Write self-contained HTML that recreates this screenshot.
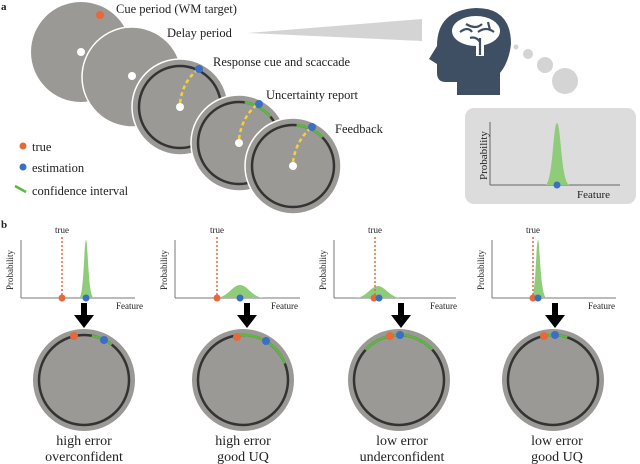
<!DOCTYPE html>
<html><head><meta charset="utf-8"><style>
body{margin:0;background:#fff}
svg{display:block}
text{font-family:"Liberation Serif",serif;fill:#222}
</style></head><body>
<svg width="640" height="464" viewBox="0 0 640 464" xmlns="http://www.w3.org/2000/svg">
<text x="1" y="10" font-size="11" font-weight="bold">a</text>
<text x="1" y="228" font-size="11" font-weight="bold">b</text>
<!-- triangle -->
<polygon points="248,33 422,19 422,41" fill="#d4d4d4"/>
<!-- stacked circles -->
<circle cx="81" cy="52" r="50" fill="#9a9995"/>
<circle cx="100" cy="15" r="4" fill="#e8683a"/>
<circle cx="81" cy="52" r="4" fill="#fff"/>
<circle cx="132" cy="77" r="50" fill="#9a9995" stroke="#fff" stroke-width="1.5"/>
<circle cx="132" cy="76" r="4" fill="#fff"/>
<g>
<circle cx="180" cy="107" r="48" fill="#9a9995" stroke="#fff" stroke-width="1.5"/>
<circle cx="180" cy="107" r="41" fill="none" stroke="#333" stroke-width="2.5"/>
<path d="M180,103 Q183,80 199,69" fill="none" stroke="#f5d13a" stroke-width="2.5" stroke-dasharray="4,3"/>
<circle cx="180" cy="107" r="4" fill="#fff"/>
<circle cx="199" cy="69" r="4" fill="#3a6fc4"/>
</g>
<g>
<circle cx="239" cy="143" r="48" fill="#9a9995" stroke="#fff" stroke-width="1.5"/>
<circle cx="239" cy="143" r="41" fill="none" stroke="#333" stroke-width="2.5"/>
<circle cx="239" cy="143" r="41" fill="none" stroke="#5cb83f" stroke-width="2.5" stroke-dasharray="30 300" transform="rotate(-82 239 143)"/>
<path d="M239,139 Q242,116 258,104" fill="none" stroke="#f5d13a" stroke-width="2.5" stroke-dasharray="4,3"/>
<circle cx="239" cy="143" r="4" fill="#fff"/>
<circle cx="259" cy="104" r="4" fill="#3a6fc4"/>
</g>
<g>
<circle cx="293" cy="166" r="48" fill="#9a9995" stroke="#fff" stroke-width="1.5"/>
<circle cx="293" cy="166" r="41" fill="none" stroke="#333" stroke-width="2.5"/>
<circle cx="293" cy="166" r="41" fill="none" stroke="#5cb83f" stroke-width="2.5" stroke-dasharray="29 300" transform="rotate(-85 293 166)"/>
<path d="M293,162 Q296,140 312,127" fill="none" stroke="#f5d13a" stroke-width="2.5" stroke-dasharray="4,3"/>
<circle cx="293" cy="166" r="4" fill="#fff"/>
<circle cx="312" cy="127" r="4" fill="#3a6fc4"/>
</g>
<text x="116" y="13" font-size="12.5">Cue period (WM target)</text>
<text x="167" y="37" font-size="12.5">Delay period</text>
<text x="213" y="66" font-size="12.5">Response cue and scaccade</text>
<text x="266" y="99" font-size="12.5">Uncertainty report</text>
<text x="335" y="133" font-size="12.5">Feedback</text>
<!-- legend -->
<circle cx="23" cy="146" r="3.5" fill="#e8683a"/>
<text x="32" y="151" font-size="12.5">true</text>
<circle cx="23" cy="167" r="3.5" fill="#3a6fc4"/>
<text x="32" y="172" font-size="12.5">estimation</text>
<line x1="15" y1="186" x2="26" y2="192" stroke="#5cb83f" stroke-width="2.5"/>
<text x="32" y="195" font-size="12.5">confidence interval</text>
<!-- head -->
<path d="M457,95 L457,82 L446,82 Q437,82 437,73 L437,64 L429,59 L437,46 Q437,10 476,8 Q511,8 511,44 Q509,62 500,73 L500,95 Z" fill="#3e4f63"/>
<ellipse cx="476" cy="31" rx="24" ry="15" fill="#fff"/>
<rect x="476" y="38" width="8" height="18" fill="#fff"/>
<path d="M460,32 Q468,26 472,32 M466,24 Q476,30 482,24 M478,32 Q486,26 494,32 M480,38 L480,55 M470,38 Q476,36 480,42 M488,22 L490,30" stroke="#3e4f63" stroke-width="2.2" fill="none"/>
<circle cx="516" cy="47" r="2.5" fill="#d4d4d4"/>
<circle cx="528" cy="54" r="5" fill="#d4d4d4"/>
<circle cx="545" cy="65" r="8" fill="#d4d4d4"/>
<circle cx="565" cy="81" r="13" fill="#d4d4d4"/>
<!-- box -->
<rect x="465" y="108" width="171" height="96" rx="9" fill="#dcdcdc"/>
<line x1="490" y1="122" x2="490" y2="185" stroke="#666" stroke-width="1"/>
<line x1="490" y1="185" x2="620" y2="185" stroke="#666" stroke-width="1"/>
<path d="M545,185 C553,185 553,123 557,123 C561,123 561,185 570,185 Z" fill="#8fcc7a"/>
<circle cx="557" cy="185" r="3.5" fill="#3a6fc4"/>
<text x="577" y="198" font-size="11">Feature</text>
<text transform="translate(487,180) rotate(-90)" font-size="11">Probability</text>
<!-- panel b plots -->
<g font-size="9">
<!-- p1 -->
<line x1="21" y1="240" x2="21" y2="298" stroke="#777"/><line x1="21" y1="298" x2="135" y2="298" stroke="#777"/>
<path d="M79,298 C84,298 84,240 86,240 C88,240 88,298 94,298 Z" fill="#8fcc7a"/>
<line x1="62" y1="237" x2="62" y2="298" stroke="#e8683a" stroke-width="1.5" stroke-dasharray="2,2"/>
<text x="55" y="233">true</text>
<circle cx="62" cy="298" r="3.5" fill="#e8683a"/><circle cx="86" cy="298" r="3.5" fill="#3a6fc4"/>
<text x="116" y="309">Feature</text>
<text transform="translate(13,290) rotate(-90)">Probability</text>
<!-- p2 -->
<line x1="175" y1="240" x2="175" y2="298" stroke="#777"/><line x1="175" y1="298" x2="300" y2="298" stroke="#777"/>
<path d="M215,298 C228,298 232,285 240,285 C248,285 252,298 265,298 Z" fill="#8fcc7a"/>
<line x1="217" y1="237" x2="217" y2="298" stroke="#e8683a" stroke-width="1.5" stroke-dasharray="2,2"/>
<text x="210" y="233">true</text>
<circle cx="217" cy="298" r="3.5" fill="#e8683a"/><circle cx="240" cy="298" r="3.5" fill="#3a6fc4"/>
<text x="271" y="309">Feature</text>
<text transform="translate(167,290) rotate(-90)">Probability</text>
<!-- p3 -->
<line x1="334" y1="240" x2="334" y2="298" stroke="#777"/><line x1="334" y1="298" x2="456" y2="298" stroke="#777"/>
<path d="M355,298 C366,298 371,286 378,286 C385,286 390,298 402,298 Z" fill="#8fcc7a"/>
<line x1="375" y1="237" x2="375" y2="298" stroke="#e8683a" stroke-width="1.5" stroke-dasharray="2,2"/>
<text x="368" y="233">true</text>
<circle cx="374" cy="298" r="3.5" fill="#e8683a"/><circle cx="379" cy="298" r="3.5" fill="#3a6fc4"/>
<text x="430" y="309">Feature</text>
<text transform="translate(326,290) rotate(-90)">Probability</text>
<!-- p4 -->
<line x1="492" y1="240" x2="492" y2="298" stroke="#777"/><line x1="492" y1="298" x2="616" y2="298" stroke="#777"/>
<path d="M531,298 C536,298 536,240 538,240 C540,240 540,298 547,298 Z" fill="#8fcc7a"/>
<line x1="533" y1="237" x2="533" y2="298" stroke="#e8683a" stroke-width="1.5" stroke-dasharray="2,2"/>
<text x="526" y="233">true</text>
<circle cx="533" cy="298" r="3.5" fill="#e8683a"/><circle cx="538" cy="298" r="3.5" fill="#3a6fc4"/>
<text x="588" y="309">Feature</text>
<text transform="translate(484,290) rotate(-90)">Probability</text>
</g>
<!-- arrows -->
<g fill="#000">
<path d="M81,303 h6 v12 h7 l-10,13 l-10,-13 h7 Z"/>
<path d="M244,303 h6 v12 h7 l-10,13 l-10,-13 h7 Z"/>
<path d="M398,303 h6 v12 h7 l-10,13 l-10,-13 h7 Z"/>
<path d="M552,303 h6 v12 h7 l-10,13 l-10,-13 h7 Z"/>
</g>
<!-- bottom circles -->
<circle cx="84" cy="380" r="51" fill="#9a9995"/>
<circle cx="84" cy="380" r="45" fill="none" stroke="#333" stroke-width="2.5"/>
<circle cx="84" cy="380" r="45" fill="none" stroke="#5cb83f" stroke-width="2.5" stroke-dasharray="22 300" transform="rotate(-80 84 380)"/>
<circle cx="74" cy="336" r="4" fill="#e8683a"/><circle cx="104" cy="340" r="4" fill="#3a6fc4"/>

<circle cx="243" cy="380" r="51" fill="#9a9995"/>
<circle cx="243" cy="380" r="45" fill="none" stroke="#333" stroke-width="2.5"/>
<circle cx="243" cy="380" r="45" fill="none" stroke="#5cb83f" stroke-width="2.5" stroke-dasharray="63 300" transform="rotate(-102 243 380)"/>
<circle cx="237" cy="337" r="4" fill="#e8683a"/><circle cx="266" cy="341" r="4" fill="#3a6fc4"/>

<circle cx="399" cy="380" r="51" fill="#9a9995"/>
<circle cx="399" cy="380" r="45" fill="none" stroke="#333" stroke-width="2.5"/>
<circle cx="399" cy="380" r="45" fill="none" stroke="#5cb83f" stroke-width="2.5" stroke-dasharray="75 300" transform="rotate(-138 399 380)"/>
<circle cx="390" cy="336" r="4" fill="#e8683a"/><circle cx="400" cy="335" r="4" fill="#3a6fc4"/>

<circle cx="553" cy="380" r="51" fill="#9a9995"/>
<circle cx="553" cy="380" r="45" fill="none" stroke="#333" stroke-width="2.5"/>
<circle cx="553" cy="380" r="45" fill="none" stroke="#5cb83f" stroke-width="2.5" stroke-dasharray="24 300" transform="rotate(-102 553 380)"/>
<circle cx="544" cy="336" r="4" fill="#e8683a"/><circle cx="555" cy="335" r="4" fill="#3a6fc4"/>

<g font-size="14" text-anchor="middle">
<text x="84" y="445">high error</text><text x="84" y="461">overconfident</text>
<text x="243" y="445">high error</text><text x="243" y="461">good UQ</text>
<text x="402" y="445">low error</text><text x="402" y="461">underconfident</text>
<text x="557" y="445">low error</text><text x="557" y="461">good UQ</text>
</g>
</svg>
</body></html>
